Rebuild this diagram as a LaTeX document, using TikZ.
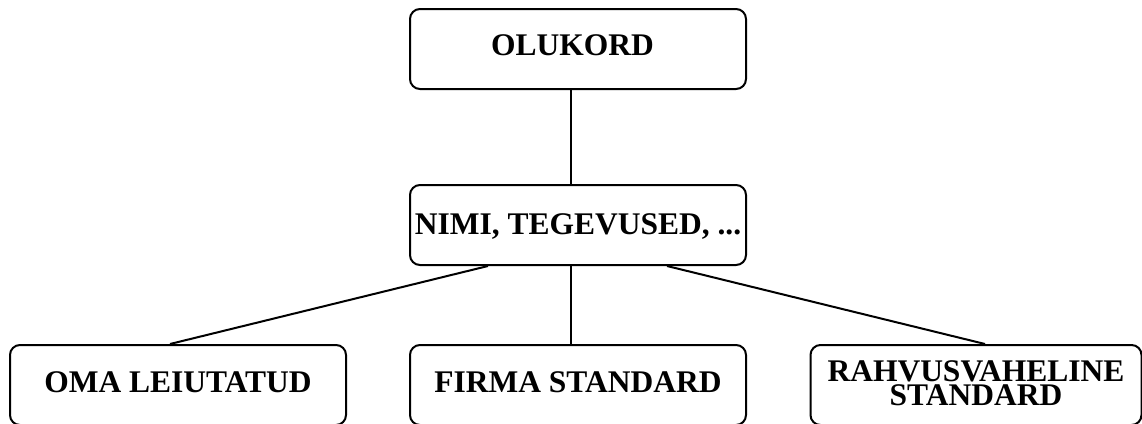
\documentclass[tikz,border=0pt]{standalone}
\usepackage{fontspec}
\setmainfont{Liberation Serif}
\begin{document}
\begin{tikzpicture}[x=1pt,y=-1pt,
  box/.style={draw, line width=2pt, rounded corners=10pt,
    minimum width=336pt, minimum height=80pt, inner sep=0pt,
    font=\fontsize{31.5}{21}\selectfont\bfseries, align=center,
    text height=20.8pt, text depth=5pt},
  link/.style={line width=2pt}]
\useasboundingbox (0,0) rectangle (1142,423);
\clip (0,0) rectangle (1142,423);

% boxes
\node[box, text depth=8pt] (olukord) at (578,49) {OLUKORD\hspace*{11pt}};
\node[box, text depth=1pt] (nimi) at (578,225) {NIMI, TEGEVUSED, ...};
\node[box] (oma) at (178,385) {OMA LEIUTATUD};
\node[box] (firma) at (578,385) {FIRMA STANDARD};
\node[box, minimum width=331pt, text height=, text depth=4pt,
  font=\fontsize{31.5}{23.5}\selectfont\bfseries] (rahvus) at (976,385) {RAHVUSVAHELINE\\STANDARD};

% connectors
\draw[link] ([xshift=-7pt]olukord.south) -- ([xshift=-7pt]nimi.north);
\draw[link] ([xshift=-90pt]nimi.south) -- ([xshift=-8pt]oma.north);
\draw[link] ([xshift=-7pt]nimi.south) -- ([xshift=-7pt]firma.north);
\draw[link] ([xshift=89pt]nimi.south) -- ([xshift=9pt]rahvus.north);
\end{tikzpicture}
\end{document}
